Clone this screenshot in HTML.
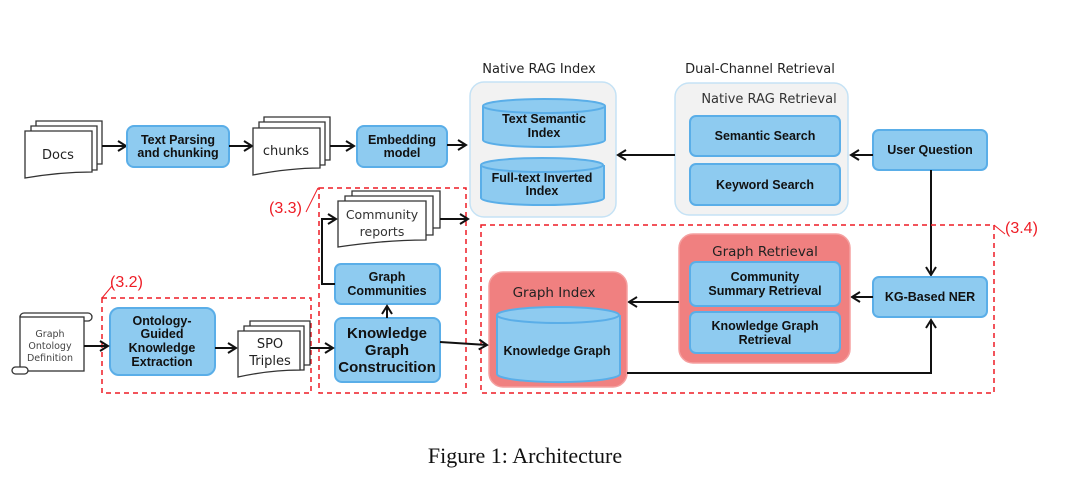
<!DOCTYPE html>
<html><head><meta charset="utf-8"><style>
html,body{margin:0;padding:0;background:#fff;width:1080px;height:485px;overflow:hidden}
svg text{font-family:"DejaVu Sans","Liberation Sans",sans-serif}
svg text.b{font-family:"Liberation Sans",sans-serif;font-weight:bold;font-size:12.5px;fill:#111}
.box{fill:#8ecbf0;stroke:#5aaee8;stroke-width:2}
.doc{fill:#fff;stroke:#333;stroke-width:1.3}
.ln{stroke:#111;stroke-width:2;fill:none}
.rd{stroke:#ee1c25;stroke-width:1.5;fill:none;stroke-dasharray:5,4}
svg text.rt{fill:#ee1c25;font-family:"Liberation Sans",sans-serif;font-size:16px}
svg text.k{font-family:"Liberation Sans",sans-serif;font-size:15px;font-weight:bold;fill:#111}
</style></head><body>
<svg width="1080" height="485" viewBox="0 0 1080 485" xmlns="http://www.w3.org/2000/svg">
<defs><marker id="a" markerWidth="12" markerHeight="12" refX="9" refY="6" orient="auto" markerUnits="userSpaceOnUse"><path d="M1,1 L9,6 L1,11" fill="none" stroke="#111" stroke-width="2"/></marker></defs>

<!-- Docs -->
<g class="doc">
<path d="M36,121 H102 V164 H36 Z"/><path d="M31,126 H97 V170 H31 Z"/>
<path d="M25,131 H92 V172 Q60,172 25,178 Z"/></g>
<text x="58" y="159" text-anchor="middle" font-size="13" fill="#222">Docs</text>
<line class="ln" x1="102" y1="146" x2="126" y2="146" marker-end="url(#a)"/>
<rect class="box" x="127" y="126" width="102" height="41" rx="7"/>
<text class="b" x="178" y="144" text-anchor="middle">Text Parsing</text>
<text class="b" x="178" y="157" text-anchor="middle">and chunking</text>
<line class="ln" x1="229" y1="146" x2="252" y2="146" marker-end="url(#a)"/>
<g class="doc">
<path d="M264,117 H330 V160 H264 Z"/><path d="M259,122 H325 V165 H259 Z"/>
<path d="M253,128 H320 V168 Q290,168 253,175 Z"/></g>
<text x="286" y="155" text-anchor="middle" font-size="13" fill="#222">chunks</text>
<line class="ln" x1="330" y1="146" x2="354" y2="146" marker-end="url(#a)"/>
<rect class="box" x="357" y="126" width="90" height="41" rx="7"/>
<text class="b" x="402" y="144" text-anchor="middle">Embedding</text>
<text class="b" x="402" y="157" text-anchor="middle">model</text>
<line class="ln" x1="447" y1="145" x2="466" y2="145" marker-end="url(#a)"/>

<!-- Native RAG Index -->
<text x="539" y="73" text-anchor="middle" font-size="13" fill="#222">Native RAG Index</text>
<rect x="470" y="82" width="146" height="135" rx="14" fill="#f2f2f2" stroke="#c5e2f5" stroke-width="1.5"/>
<path class="box" d="M483,106 V140 A61,7 0 0 0 605,140 V106"/>
<ellipse class="box" cx="544" cy="106" rx="61" ry="7"/>
<text class="b" x="544" y="123" text-anchor="middle">Text Semantic</text>
<text class="b" x="544" y="137" text-anchor="middle">Index</text>
<path class="box" d="M481,165 V198 A61,7 0 0 0 604,198 V165"/>
<ellipse class="box" cx="542" cy="165" rx="61" ry="7"/>
<text class="b" x="542" y="182" text-anchor="middle">Full-text Inverted</text>
<text class="b" x="542" y="195" text-anchor="middle">Index</text>

<!-- Dual channel -->
<text x="760" y="73" text-anchor="middle" font-size="13" fill="#222">Dual-Channel Retrieval</text>
<rect x="675" y="83" width="173" height="132" rx="14" fill="#f2f2f2" stroke="#c5e2f5" stroke-width="1.5"/>
<text x="769" y="103" text-anchor="middle" font-size="13" fill="#333">Native RAG Retrieval</text>
<rect class="box" x="690" y="116" width="150" height="40" rx="6"/>
<text class="b" x="765" y="140" text-anchor="middle">Semantic Search</text>
<rect class="box" x="690" y="164" width="150" height="41" rx="6"/>
<text class="b" x="765" y="189" text-anchor="middle">Keyword Search</text>
<line class="ln" x1="675" y1="155" x2="618" y2="155" marker-end="url(#a)"/>
<rect class="box" x="873" y="130" width="114" height="40" rx="6"/>
<text class="b" x="930" y="154" text-anchor="middle">User Question</text>
<line class="ln" x1="873" y1="155" x2="851" y2="155" marker-end="url(#a)"/>
<line class="ln" x1="931" y1="170" x2="931" y2="275" marker-end="url(#a)"/>

<!-- 3.4 -->
<rect class="rd" x="481" y="225" width="513" height="168"/>
<line x1="994" y1="225" x2="1005" y2="234" stroke="#ee1c25" stroke-width="1"/>
<text class="rt" x="1005" y="233">(3.4)</text>
<rect class="box" x="873" y="277" width="114" height="40" rx="6"/>
<text class="b" x="930" y="301" text-anchor="middle">KG-Based NER</text>
<line class="ln" x1="873" y1="297" x2="852" y2="297" marker-end="url(#a)"/>
<rect x="679" y="234" width="171" height="129" rx="14" fill="#f08080" stroke="#f5a0a0" stroke-width="1.5"/>
<text x="765" y="256" text-anchor="middle" font-size="13.5" fill="#222">Graph Retrieval</text>
<rect class="box" x="690" y="262" width="150" height="44" rx="6"/>
<text class="b" x="765" y="281" text-anchor="middle">Community</text>
<text class="b" x="765" y="295" text-anchor="middle">Summary Retrieval</text>
<rect class="box" x="690" y="312" width="150" height="41" rx="6"/>
<text class="b" x="765" y="330" text-anchor="middle">Knowledge Graph</text>
<text class="b" x="765" y="344" text-anchor="middle">Retrieval</text>
<line class="ln" x1="679" y1="302" x2="629" y2="302" marker-end="url(#a)"/>
<rect x="489" y="272" width="138" height="115" rx="14" fill="#f08080" stroke="#f5a0a0" stroke-width="1.5"/>
<text x="554" y="297" text-anchor="middle" font-size="13.5" fill="#222">Graph Index</text>
<path class="box" d="M497,315 V374 A61,8 0 0 0 620,374 V315"/>
<ellipse class="box" cx="558" cy="315" rx="61" ry="8"/>
<text class="b" x="557" y="355" text-anchor="middle">Knowledge Graph</text>
<polyline class="ln" points="627,373 931,373 931,320" marker-end="url(#a)"/>

<!-- 3.3 -->
<rect class="rd" x="319" y="188" width="147" height="205"/>
<line x1="306" y1="212" x2="318" y2="188" stroke="#ee1c25" stroke-width="1"/>
<text class="rt" x="269" y="213">(3.3)</text>
<g class="doc">
<path d="M352,191 H440 V228 H352 Z"/><path d="M345,196 H433 V235 H345 Z"/>
<path d="M338,201 H426 V240 Q385,240 338,247 Z"/></g>
<text x="382" y="219" text-anchor="middle" font-size="12.5" fill="#333">Community</text>
<text x="382" y="236" text-anchor="middle" font-size="12.5" fill="#333">reports</text>
<line class="ln" x1="440" y1="219" x2="468" y2="219" marker-end="url(#a)"/>
<rect class="box" x="335" y="264" width="105" height="40" rx="6"/>
<text class="b" x="387" y="281" text-anchor="middle">Graph</text>
<text class="b" x="387" y="295" text-anchor="middle">Communities</text>
<polyline class="ln" points="335,284 322,284 322,219 336,219" marker-end="url(#a)"/>
<rect class="box" x="335" y="318" width="105" height="64" rx="7"/>
<text class="k" x="387" y="338" text-anchor="middle">Knowledge</text>
<text class="k" x="387" y="355" text-anchor="middle">Graph</text>
<text class="k" x="387" y="372" text-anchor="middle">Construcition</text>
<line class="ln" x1="387" y1="318" x2="387" y2="306" marker-end="url(#a)"/>
<line class="ln" x1="440" y1="342" x2="487" y2="345" marker-end="url(#a)"/>

<!-- 3.2 -->
<rect class="rd" x="102" y="298" width="209" height="95"/>
<line x1="102" y1="298" x2="112" y2="286" stroke="#ee1c25" stroke-width="1"/>
<text class="rt" x="110" y="287">(3.2)</text>
<rect class="box" x="110" y="308" width="105" height="67" rx="9"/>
<text class="b" x="162" y="325" text-anchor="middle">Ontology-</text>
<text class="b" x="162" y="338" text-anchor="middle">Guided</text>
<text class="b" x="162" y="352" text-anchor="middle">Knowledge</text>
<text class="b" x="162" y="366" text-anchor="middle">Extraction</text>
<line class="ln" x1="215" y1="348" x2="236" y2="348" marker-end="url(#a)"/>
<g class="doc">
<path d="M250,321 H310 V365 H250 Z"/><path d="M244,326 H304 V370 H244 Z"/>
<path d="M238,331 H300 V370 Q270,370 238,377 Z"/></g>
<text x="270" y="348" text-anchor="middle" font-size="13" fill="#222">SPO</text>
<text x="270" y="365" text-anchor="middle" font-size="13" fill="#222">Triples</text>
<line class="ln" x1="310" y1="348" x2="333" y2="348" marker-end="url(#a)"/>

<!-- scroll -->
<g class="doc">
<rect x="20" y="313" width="72" height="8" rx="4"/>
<rect x="20" y="317" width="64" height="54"/>
<rect x="12" y="367" width="16" height="7" rx="3.5"/></g>
<text x="50" y="337" text-anchor="middle" font-size="9.5" fill="#444">Graph</text>
<text x="50" y="349" text-anchor="middle" font-size="9.5" fill="#444">Ontology</text>
<text x="50" y="361" text-anchor="middle" font-size="9.5" fill="#444">Definition</text>
<line class="ln" x1="84" y1="346" x2="108" y2="346" marker-end="url(#a)"/>

<text x="525" y="463" text-anchor="middle" font-size="22" fill="#111" style="font-family:'Liberation Serif',serif">Figure 1: Architecture</text>
</svg>
</body></html>
